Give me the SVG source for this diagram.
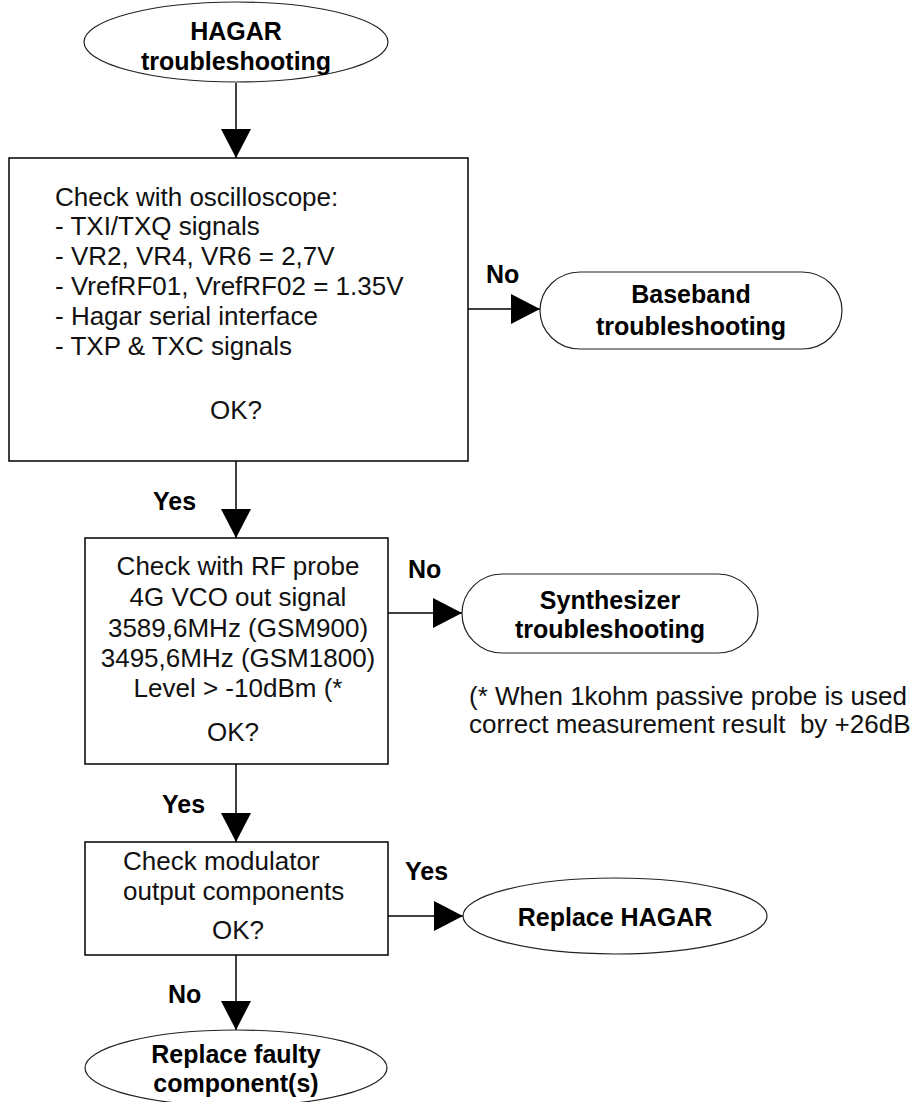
<svg xmlns="http://www.w3.org/2000/svg" width="914" height="1102" viewBox="0 0 914 1102">
<style>
  .shape { fill: #fff; stroke: #000; stroke-width: 1.5; }
  .term { fill: #fff; stroke: #222; stroke-width: 1.2; }
  .t { font-family: "Liberation Sans", Arial, sans-serif; font-size: 26px; fill: #111; }
  .b { font-family: "Liberation Sans", Arial, sans-serif; font-size: 25px; font-weight: bold; fill: #000; }
  .mid { text-anchor: middle; }
  .conn { stroke: #000; stroke-width: 1.5; fill: none; marker-end: url(#arr); }
</style>
<defs>
  <marker id="arr" markerUnits="userSpaceOnUse" markerWidth="30" markerHeight="30" refX="29" refY="15" orient="auto">
    <path d="M0,0 L29,15 L0,30 z" fill="#000"/>
  </marker>
</defs>
<rect width="914" height="1102" fill="#fff"/>

<g id="connectors">
  <line class="conn" x1="236" y1="83" x2="236" y2="158"/>
  <line class="conn" x1="236" y1="461" x2="236" y2="538"/>
  <line class="conn" x1="468" y1="309" x2="540" y2="309"/>
  <line class="conn" x1="236" y1="764" x2="236" y2="842"/>
  <line class="conn" x1="388" y1="613" x2="462" y2="613"/>
  <line class="conn" x1="388" y1="916" x2="463" y2="916"/>
  <line class="conn" x1="236" y1="955" x2="236" y2="1030"/>
  <text class="b" x="486" y="283">No</text>
  <text class="b" x="153" y="510">Yes</text>
  <text class="b" x="408" y="578">No</text>
  <text class="b" x="162" y="813">Yes</text>
  <text class="b" x="405" y="880">Yes</text>
  <text class="b" x="168" y="1003">No</text>
</g>

<g id="start">
  <ellipse class="term" cx="236" cy="42" rx="152" ry="40"/>
  <text class="b mid" x="236" y="40">HAGAR</text>
  <text class="b mid" x="236" y="70">troubleshooting</text>
</g>

<g id="check-oscilloscope">
  <rect class="shape" x="9" y="158" width="459" height="303"/>
  <text class="t" x="55" y="206">Check with oscilloscope:</text>
  <text class="t" x="55" y="235">- TXI/TXQ signals</text>
  <text class="t" x="55" y="265">- VR2, VR4, VR6 = 2,7V</text>
  <text class="t" x="55" y="295">- VrefRF01, VrefRF02 = 1.35V</text>
  <text class="t" x="55" y="325">- Hagar serial interface</text>
  <text class="t" x="55" y="355">- TXP &amp; TXC signals</text>
  <text class="t mid" x="236" y="419">OK?</text>
</g>

<g id="baseband">
  <rect class="term" x="540" y="272" width="302" height="77" rx="40" ry="38.5"/>
  <text class="b mid" x="691" y="303">Baseband</text>
  <text class="b mid" x="691" y="335">troubleshooting</text>
</g>

<g id="check-rf-probe">
  <rect class="shape" x="85" y="538" width="303" height="226"/>
  <text class="t mid" x="238" y="575">Check with RF probe</text>
  <text class="t mid" x="238" y="606">4G VCO out signal</text>
  <text class="t mid" x="238" y="637">3589,6MHz (GSM900)</text>
  <text class="t mid" x="238" y="667">3495,6MHz (GSM1800)</text>
  <text class="t mid" x="238" y="697">Level &gt; -10dBm (*</text>
  <text class="t mid" x="233" y="741">OK?</text>
</g>

<g id="synthesizer">
  <rect class="term" x="462" y="574" width="296" height="79" rx="40" ry="39.5"/>
  <text class="b mid" x="610" y="609">Synthesizer</text>
  <text class="b mid" x="610" y="638">troubleshooting</text>
</g>

<g id="note">
  <text class="t" x="469" y="705">(* When 1kohm passive probe is used</text>
  <text class="t" x="469" y="733" xml:space="preserve">correct measurement result  by +26dB</text>
</g>

<g id="check-modulator">
  <rect class="shape" x="85" y="842" width="303" height="113"/>
  <text class="t" x="123" y="870">Check modulator</text>
  <text class="t" x="123" y="900">output components</text>
  <text class="t mid" x="238" y="939">OK?</text>
</g>

<g id="replace-hagar">
  <ellipse class="term" cx="615" cy="916" rx="152" ry="38"/>
  <text class="b mid" x="615" y="926">Replace HAGAR</text>
</g>

<g id="replace-faulty">
  <ellipse class="term" cx="236" cy="1068" rx="151" ry="38"/>
  <text class="b mid" x="236" y="1063">Replace faulty</text>
  <text class="b mid" x="236" y="1092">component(s)</text>
</g>
</svg>
